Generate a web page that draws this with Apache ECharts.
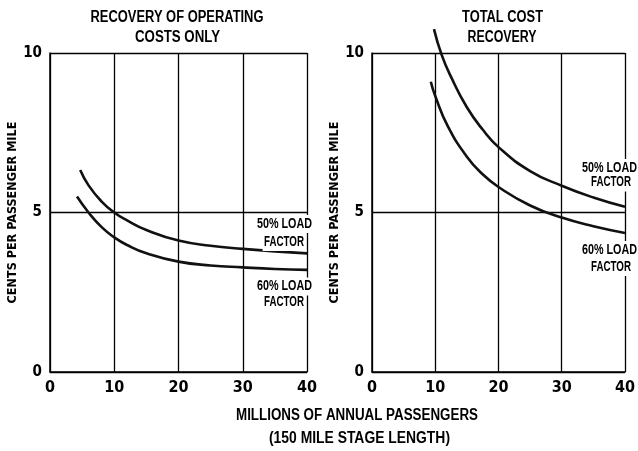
<!DOCTYPE html>
<html>
<head>
<meta charset="utf-8">
<script src="https://cdn.jsdelivr.net/npm/echarts@6/dist/echarts.min.js"></script>
<style>
html,body{margin:0;padding:0;background:#fff;}
#chart{width:638px;height:451px;}
</style>
</head>
<body>
<div id="chart"></div>
<script>
// ---- data ----
const panelTitles = [["RECOVERY OF OPERATING", "COSTS ONLY"], ["TOTAL COST", "RECOVERY"]];
const xAxisTitle = ["MILLIONS OF ANNUAL PASSENGERS", "(150 MILE STAGE LENGTH)"];
const yAxisTitle = "CENTS PER PASSENGER MILE";
const xRange = [0, 40, 10];
const yRange = [0, 10, 5];
const seriesNames = ["50% LOAD FACTOR", "60% LOAD FACTOR"];
const curveLabels = [["50% LOAD", "FACTOR"], ["60% LOAD", "FACTOR"]];

// Recovery of operating costs only
const opLoad50 = [[4.7,6.33],[6,5.85],[8,5.35],[10,5.0],[12,4.75],[15,4.45],[20,4.12],[25,3.96],[30,3.86],[35,3.78],[40,3.72]];
const opLoad60 = [[4.2,5.5],[6,5.0],[8,4.55],[10,4.22],[12,3.98],[15,3.72],[20,3.46],[25,3.34],[30,3.28],[35,3.23],[40,3.2]];
// Total cost recovery
const totLoad50 = [[9.8,10.75],[11,9.95],[12.5,9.25],[15,8.3],[17.5,7.6],[20,7.05],[25,6.3],[30,5.84],[35,5.47],[40,5.18]];
const totLoad60 = [[9.3,9.1],[10,8.65],[12,7.7],[15,6.75],[17.5,6.2],[20,5.8],[25,5.22],[30,4.84],[35,4.57],[40,4.36]];

// ---- chart ----
const FONT = "'DejaVu Sans Condensed','Liberation Sans Narrow',sans-serif";
const TFONT = "'Liberation Sans',Arial,sans-serif";
const chart = echarts.init(document.getElementById('chart'), null, {renderer:'canvas'});
const mctx = document.createElement('canvas').getContext('2d');

function xAxis(i){
  return {
    gridIndex:i, type:'value', min:xRange[0], max:xRange[1], interval:xRange[2],
    axisLine:{show:true, lineStyle:{color:'#000', width:1.5}},
    axisTick:{show:false},
    axisLabel:{color:'#000', fontSize:16, fontWeight:'bold', fontFamily:FONT, margin:8},
    splitLine:{show:true, lineStyle:{color:'#000', width:1.3}}
  };
}
function yAxis(i){
  return {
    gridIndex:i, type:'value', min:yRange[0], max:yRange[1], interval:yRange[2],
    name:yAxisTitle, nameLocation:'middle', nameGap:28, nameRotate:90,
    nameTextStyle:{color:'#000', fontSize:12.5, fontWeight:'bold', fontFamily:FONT},
    axisLine:{show:true, lineStyle:{color:'#000', width:1.5}},
    axisTick:{show:false},
    axisLabel:{color:'#000', fontSize:15, fontWeight:'bold', fontFamily:FONT, margin:8},
    splitLine:{show:true, lineStyle:{color:'#000', width:1.3}}
  };
}
function line(name, data, i){
  return {
    name:name, type:'line', xAxisIndex:i, yAxisIndex:i, data:data,
    smooth:0.5, showSymbol:false, clip:false,
    lineStyle:{color:'#111', width:2.6}, z:5
  };
}
// text squeezed horizontally to a target width (condensed typeface look)
function txt(t, cx, cy, size, w, bg){
  const font = 'bold ' + size + 'px ' + TFONT;
  mctx.font = font;
  const mw = mctx.measureText(t).width || w;
  const s = {text:t, x:0, y:0, fill:'#000', align:'center', verticalAlign:'middle', font:font};
  if (bg) { s.backgroundColor = '#fff'; s.padding = [2, 2]; }
  return {type:'text', z:100, x:cx, y:cy, scaleX:w / mw, scaleY:1, style:s};
}

const graphics = [
  txt(panelTitles[0][0], 177, 18, 16, 173), txt(panelTitles[0][1], 177.5, 37.5, 16, 85),
  txt(panelTitles[1][0], 502.5, 18, 16, 81), txt(panelTitles[1][1], 502, 37.5, 16, 69),
  txt(xAxisTitle[0], 357, 416, 16, 242), txt(xAxisTitle[1], 359.5, 439, 16, 181),
  txt(curveLabels[0][0], 284.5, 224, 14, 55, true), txt(curveLabels[0][1], 284, 242, 14, 40, true),
  txt(curveLabels[1][0], 284.5, 286.5, 14, 55, true), txt(curveLabels[1][1], 284, 302, 14, 40, true),
  txt(curveLabels[0][0], 609.5, 168, 14, 55, true), txt(curveLabels[0][1], 611, 182.5, 14, 40, true),
  txt(curveLabels[1][0], 609.5, 250, 14, 55, true), txt(curveLabels[1][1], 611, 267, 14, 40, true)
];

chart.setOption({
  backgroundColor:'#fff',
  animation:false,
  grid:[
    {left:50, top:53, width:257, height:319},
    {left:372, top:53, width:259, height:319}
  ],
  xAxis:[xAxis(0), xAxis(1)],
  yAxis:[yAxis(0), yAxis(1)],
  series:[
    line(seriesNames[0], opLoad50, 0),
    line(seriesNames[1], opLoad60, 0),
    line(seriesNames[0], totLoad50, 1),
    line(seriesNames[1], totLoad60, 1)
  ],
  graphic:graphics
});
</script>
</body>
</html>
